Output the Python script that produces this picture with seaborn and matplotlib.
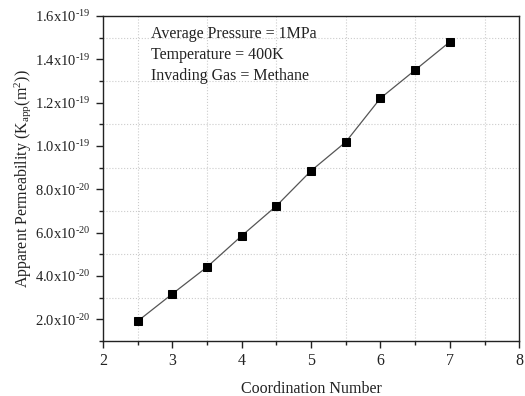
import numpy as np
import pandas as pd
import matplotlib
matplotlib.use("Agg")
import matplotlib.pyplot as plt
from matplotlib.ticker import MultipleLocator, FuncFormatter
import seaborn as sns

# 数据
coordination = [2.5, 3.0, 3.5, 4.0, 4.5, 5.0, 5.5, 6.0, 6.5, 7.0]
permeability = [1.91e-20, 3.17e-20, 4.41e-20, 5.85e-20, 7.23e-20,
                8.85e-20, 1.018e-19, 1.22e-19, 1.35e-19, 1.48e-19]
info_lines = ["Average Pressure = 1MPa",
              "Temperature = 400K",
              "Invading Gas = Methane"]

df = pd.DataFrame({"Coordination Number": coordination, "Kapp": permeability})

sns.set_theme(style="white")
plt.rcParams.update({
    'font.family': ['Liberation Serif', 'DejaVu Serif'],
    'mathtext.fontset': 'custom',
    'mathtext.rm': 'Liberation Serif',
    'mathtext.it': 'Liberation Serif:italic',
    'font.size': 11,
    'axes.edgecolor': '#222222',
    'axes.linewidth': 1.0,
})

fig = plt.figure(figsize=(5.25, 3.96), dpi=100)
ax = fig.add_axes([0.196, 0.139, 0.793, 0.821])

sns.lineplot(data=df, x="Coordination Number", y="Kapp", ax=ax,
             color='#555555', linewidth=0.9, marker='s', markersize=6,
             markerfacecolor='black', markeredgecolor='black')

ax.set_xlim(2, 8)
ax.set_ylim(1e-20, 1.6e-19)
ax.xaxis.set_major_locator(MultipleLocator(1))
ax.xaxis.set_minor_locator(MultipleLocator(0.5))
ax.yaxis.set_major_locator(MultipleLocator(2e-20))
ax.yaxis.set_minor_locator(MultipleLocator(1e-20))


def sci_fmt(v, pos):
    if v == 0:
        return "0"
    exp = int(np.floor(np.log10(abs(v)) + 1e-9))
    mant = v / 10 ** exp
    return r'$\mathrm{%.1fx10^{\text{-}%d}}$' % (mant, -exp)


ax.yaxis.set_major_formatter(FuncFormatter(sci_fmt))
ax.tick_params(which='both', direction='out', bottom=True, left=True,
               top=False, right=False, colors='#222222', labelsize=11.5)
ax.tick_params(axis='y', labelsize=10.5)
ax.tick_params(which='major', length=5, width=1)
ax.tick_params(which='minor', length=3, width=1)

# 仅在次刻度位置画虚线网格
ax.grid(False)
ax.grid(which='minor', linestyle=':', color='#cccccc', linewidth=0.8)
ax.set_axisbelow(True)

ax.set_xlabel("Coordination Number", fontsize=11.5, color='#222222', labelpad=9)
ax.set_ylabel(r"Apparent Permeability (K$_{\mathrm{app}}$(m$^{2}$))",
              fontsize=11.5, color='#222222')
ax.yaxis.set_label_coords(-0.168, 0.5)

ax.text(0.115, 0.968, "\n".join(info_lines), transform=ax.transAxes,
        va='top', ha='left', fontsize=11.5, color='#222222', linespacing=1.42)

fig.savefig("out.png", dpi=100)
